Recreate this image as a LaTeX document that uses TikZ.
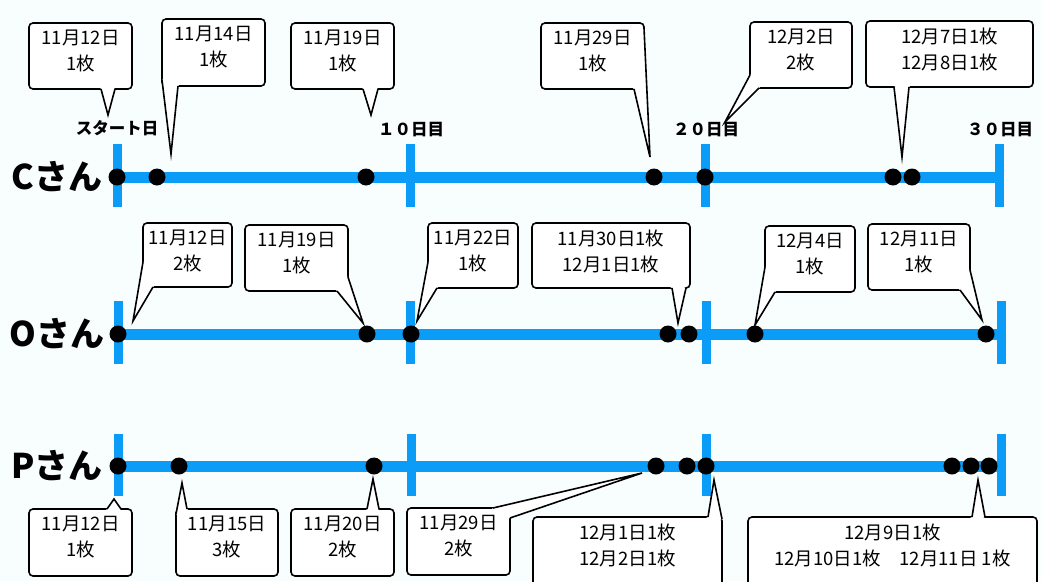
\documentclass[tikz,border=0pt]{standalone}
\usepackage{fontspec}
\setmainfont{Noto Sans CJK JP}
\usetikzlibrary{calc}
\definecolor{tlblue}{HTML}{0A9CF7}
\definecolor{bgc}{HTML}{F8FDFD}
\newcommand\callout[9]{%
  \draw[boxline,fill=white,rounded corners=4pt] (#2,#3) rectangle (#4,#5);
  \coordinate (#1c) at ({(#2+#4)/2},{(#3+#5)/2});
  \coordinate (#1tip) at (#8);
  \fill[white] ($(#7)!2.5pt!(#1c)$) -- (#7) -- (#1tip) -- (#9) -- ($(#9)!2.5pt!(#1c)$) -- cycle;
  \draw[boxline] (#7) -- (#1tip) -- (#9);
  \node[ctext] (#1) at ({(#2+#4)/2},{#3+28}) {#6};
}
\begin{document}
\begin{tikzpicture}[x=1pt,y=-1pt,
  tl/.style={tlblue, line width=11pt},
  tickln/.style={tlblue, line width=9pt},
  dot/.style={circle, fill=black, inner sep=0pt, minimum size=17pt},
  boxline/.style={black, line width=1.6pt},
  ctext/.style={font=\fontsize{18.5}{26}\selectfont, align=center, inner sep=0pt},
  lbl/.style={font=\bfseries\fontsize{16.5}{18}\selectfont, inner sep=0pt},
  who/.style={font=\bfseries\fontsize{34}{40}\selectfont, inner sep=0pt},
]
\fill[bgc] (0,0) rectangle (1041,581);
\useasboundingbox (0,0) rectangle (1041,581);
\clip (0,0) rectangle (1041,581);

% ---------- row labels
\node[who] (nC) at (57,177) {Cさん};
\node[who] (nO) at (57,334) {Oさん};
\node[who] (nP) at (57,466) {Pさん};

% ---------- axis labels
\node[lbl] (l0) at (117,128) {スタート日};
\node[lbl] (l10) at (411,130) {１０日目};
\node[lbl] (l20) at (706,130) {２０日目};
\node[lbl] (l30) at (1000,130) {３０日目};

% ---------- timelines
\coordinate (C0) at (117,177); \coordinate (C30) at (999,177);
\coordinate (O0) at (118,334); \coordinate (O30) at (1001,334);
\coordinate (P0) at (118,466); \coordinate (P30) at (1001,466);
\draw[tl] (C0) -- (C30);
\draw[tl] (O0) -- (O30);
\draw[tl] (P0) -- (P30);
\foreach \x in {117,410,705,999} \draw[tickln] (\x,144) -- (\x,207);
\foreach \x in {118,410,706,1001} \draw[tickln] (\x,301) -- (\x,364);
\foreach \x in {118,411,706,1001} \draw[tickln] (\x,434) -- (\x,496);

% ---------- dots
\foreach \x [count=\i] in {117,157,366,654,705,893,912} \node[dot] (dC\i) at (\x,177) {};
\foreach \x [count=\i] in {118,367,411,668,689,755,986} \node[dot] (dO\i) at (\x,334) {};
\foreach \x [count=\i] in {118,179,374,656,687,706,952,971,989} \node[dot] (dP\i) at (\x,466) {};

% ---------- callouts C
\callout{c1}{29}{23}{132}{89}{11月12日\\1枚}{101,89}{108,115}{115,89}
\callout{c2}{162}{19}{265}{86}{11月14日\\1枚}{162,80}{171,154}{178,86}
\callout{c3}{291}{23}{394}{89}{11月19日\\1枚}{363,89}{371,115}{378,89}
\callout{c4}{541}{23}{644}{89}{11月29日\\1枚}{634,89}{650,157}{644,28}
\callout{c5}{750}{22}{852}{88}{12月2日\\2枚}{750,75}{725,122}{759,88}
\callout{c6}{866}{21}{1033}{87}{12月7日1枚\\12月8日1枚}{894,87}{902,157}{909,87}

% ---------- callouts O
\callout{o1}{143}{223}{232}{287}{11月12日\\2枚}{143,262}{133,321}{153,287}
\callout{o2}{245}{225}{348}{291}{11月19日\\1枚}{337,291}{363,323}{348,277}
\callout{o3}{428}{223}{518}{288}{11月22日\\1枚}{428,262}{417,321}{437,288}
\callout{o4}{532}{223}{690}{288}{11月30日1枚\\12月1日1枚}{672,288}{678,323}{686,288}
\callout{o5}{765}{226}{855}{292}{12月4日\\1枚}{765,267}{755,325}{775,292}
\callout{o6}{868}{224}{970}{290}{12月11日\\1枚}{960,290}{982,320}{970,270}

% ---------- callouts P
\callout{p1}{29}{509}{132}{576}{11月12日\\1枚}{107,509}{114,499}{121,509}
\callout{p2}{176}{509}{278}{576}{11月15日\\3枚}{176,514}{182,483}{187,509}
\callout{p3}{291}{509}{394}{576}{11月20日\\2枚}{367,509}{373,479}{379,509}
\callout{p4}{407}{508}{510}{575}{11月29日\\2枚}{493,508}{642,473}{510,518}
\callout{p5}{533}{517}{722}{600}{12月1日1枚\\12月2日1枚}{708,517}{714,480}{722,519}
\callout{p6}{748}{517}{1037}{600}{12月9日1枚\\12月10日1枚　12月11日 1枚}{972,517}{978,480}{985,517}
\end{tikzpicture}
\end{document}
